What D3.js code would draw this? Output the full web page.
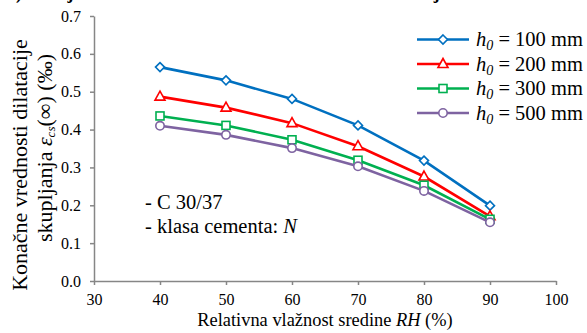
<!DOCTYPE html>
<html>
<head>
<meta charset="utf-8">
<script src="https://cdn.jsdelivr.net/npm/d3@7"></script>
<style>
  html, body { margin: 0; padding: 0; background: #fff; }
  svg text { font-family: "Liberation Serif", "Times New Roman", Times, "DejaVu Serif", serif; }
</style>
</head>
<body>
<svg id="chart" width="587" height="333"></svg>
<script>
// Relative humidity RH (%) on the x axis
const humidity = [40, 50, 60, 70, 80, 90];

// Final shrinkage strain eps_cs(inf) in ‰, one series per notional size h0
const h0Labels = ["100", "200", "300", "500"];
const strainH100 = [0.565, 0.530, 0.481, 0.411, 0.318, 0.199];
const strainH200 = [0.487, 0.458, 0.417, 0.356, 0.276, 0.171];
const strainH300 = [0.436, 0.411, 0.373, 0.319, 0.253, 0.163];
const strainH500 = [0.410, 0.386, 0.351, 0.303, 0.238, 0.155];

const xTicks = [30, 40, 50, 60, 70, 80, 90, 100];
const yTicks = [0, 0.1, 0.2, 0.3, 0.4, 0.5, 0.6, 0.7];

const series = [
  { label: h0Labels[0], values: strainH100, color: "#0070C0", marker: "diamond" },
  { label: h0Labels[1], values: strainH200, color: "#FF0000", marker: "triangle" },
  { label: h0Labels[2], values: strainH300, color: "#00B050", marker: "square" },
  { label: h0Labels[3], values: strainH500, color: "#7E63A1", marker: "circle" }
];

const FONT = "'Liberation Serif', 'Times New Roman', Times, 'DejaVu Serif', serif";

const svg = d3.select("#chart");
const plot = { left: 94, right: 556, top: 16, bottom: 281 };

const x = d3.scaleLinear().domain([30, 100]).range([plot.left, plot.right]);
const y = d3.scaleLinear().domain([0, 0.7]).range([plot.bottom, plot.top]);

// Heading above the chart (only its lower edge falls inside the frame)
svg.append("text")
  .attr("x", 6).attr("y", -1)
  .attr("font-family", FONT)
  .attr("font-size", 18).attr("font-weight", "bold")
  .text("b) Uticaj relativne vlažnosti sredine na konačnu dilataciju");

const axisColor = "#868686";

// Axes
const yAxis = svg.append("g")
  .attr("transform", `translate(${plot.left},0)`)
  .call(d3.axisLeft(y).tickValues(yTicks).tickFormat(d3.format(".1f")).tickSize(4).tickSizeOuter(0).tickPadding(9));
const xAxis = svg.append("g")
  .attr("transform", `translate(0,${plot.bottom})`)
  .call(d3.axisBottom(x).tickValues(xTicks).tickFormat(d3.format("d")).tickSize(4).tickSizeOuter(0).tickPadding(9));

[xAxis, yAxis].forEach(g => {
  g.attr("font-family", FONT);
  g.select(".domain").attr("stroke", axisColor).attr("stroke-width", 1.5);
  g.selectAll(".tick line").attr("stroke", axisColor).attr("stroke-width", 1.5);
  g.selectAll(".tick text")
    .attr("fill", "#000")
    .attr("font-size", 16)
    .attr("font-family", FONT);
});

// Axis titles
const xTitle = svg.append("text")
  .attr("x", 325)
  .attr("y", 326)
  .attr("text-anchor", "middle")
  .attr("font-family", FONT)
  .attr("font-size", 18.4);
xTitle.append("tspan").text("Relativna vlažnost sredine ");
xTitle.append("tspan").attr("font-style", "italic").text("RH");
xTitle.append("tspan").text(" (%)");

const yTitle = svg.append("g").attr("font-family", FONT).attr("font-size", 22);
yTitle.append("text")
  .attr("transform", "translate(27,165) rotate(-90)")
  .attr("text-anchor", "middle")
  .text("Konačne vrednosti dilatacije");
const yTitle2 = yTitle.append("text")
  .attr("transform", "translate(52,148) rotate(-90)")
  .attr("text-anchor", "middle");
yTitle2.append("tspan").text("skupljanja  ");
yTitle2.append("tspan").attr("font-style", "italic").text("ε");
yTitle2.append("tspan").attr("font-style", "italic").attr("font-size", 13).attr("dy", 3).text("cs");
yTitle2.append("tspan").attr("dy", -3).text("(∞)  (‰)");

// Marker shapes
function drawMarker(g, kind, cx, cy, color) {
  const common = s => s.attr("fill", "#fff").attr("stroke", color).attr("stroke-width", 1.6);
  if (kind === "circle") {
    common(g.append("circle").attr("cx", cx).attr("cy", cy).attr("r", 4.2));
  } else if (kind === "square") {
    common(g.append("rect").attr("x", cx - 4).attr("y", cy - 4).attr("width", 8).attr("height", 8));
  } else if (kind === "diamond") {
    common(g.append("path").attr("d", `M${cx},${cy - 4.5}L${cx + 4.5},${cy}L${cx},${cy + 4.5}L${cx - 4.5},${cy}Z`));
  } else {
    common(g.append("path").attr("d", `M${cx},${cy - 5.5}L${cx + 5},${cy + 3.5}L${cx - 5},${cy + 3.5}Z`));
  }
}

// Series lines and markers
const line = d3.line().x((d, i) => x(humidity[i])).y(d => y(d));
series.forEach(s => {
  const g = svg.append("g");
  g.append("path")
    .datum(s.values)
    .attr("d", line)
    .attr("fill", "none")
    .attr("stroke", s.color)
    .attr("stroke-width", 2.6);
  s.values.forEach((v, i) => drawMarker(g, s.marker, x(humidity[i]), y(v), s.color));
});

// Legend
const legend = svg.append("g").attr("font-family", FONT);
series.forEach((s, i) => {
  const ly = 39.5 + i * 24.5;
  const row = legend.append("g");
  row.append("line")
    .attr("x1", 417).attr("x2", 469).attr("y1", ly).attr("y2", ly)
    .attr("stroke", s.color).attr("stroke-width", 2.6);
  drawMarker(row, s.marker, 443, ly, s.color);
  const t = row.append("text")
    .attr("x", 476).attr("y", ly + 6.5)
    .attr("font-size", 20.5);
  t.append("tspan").attr("font-style", "italic").text("h");
  t.append("tspan").attr("font-style", "italic").attr("font-size", 14).attr("dy", 4).text("0");
  t.append("tspan").attr("dy", -4).text(` = ${s.label} mm`);
});

// Concrete class note
const note = svg.append("g").attr("font-family", FONT).attr("font-size", 20.5);
note.append("text").attr("x", 145).attr("y", 209).text("- C 30/37");
const note2 = note.append("text").attr("x", 145).attr("y", 233);
note2.append("tspan").text("- klasa cementa: ");
note2.append("tspan").attr("font-style", "italic").text("N");
</script>
</body>
</html>
